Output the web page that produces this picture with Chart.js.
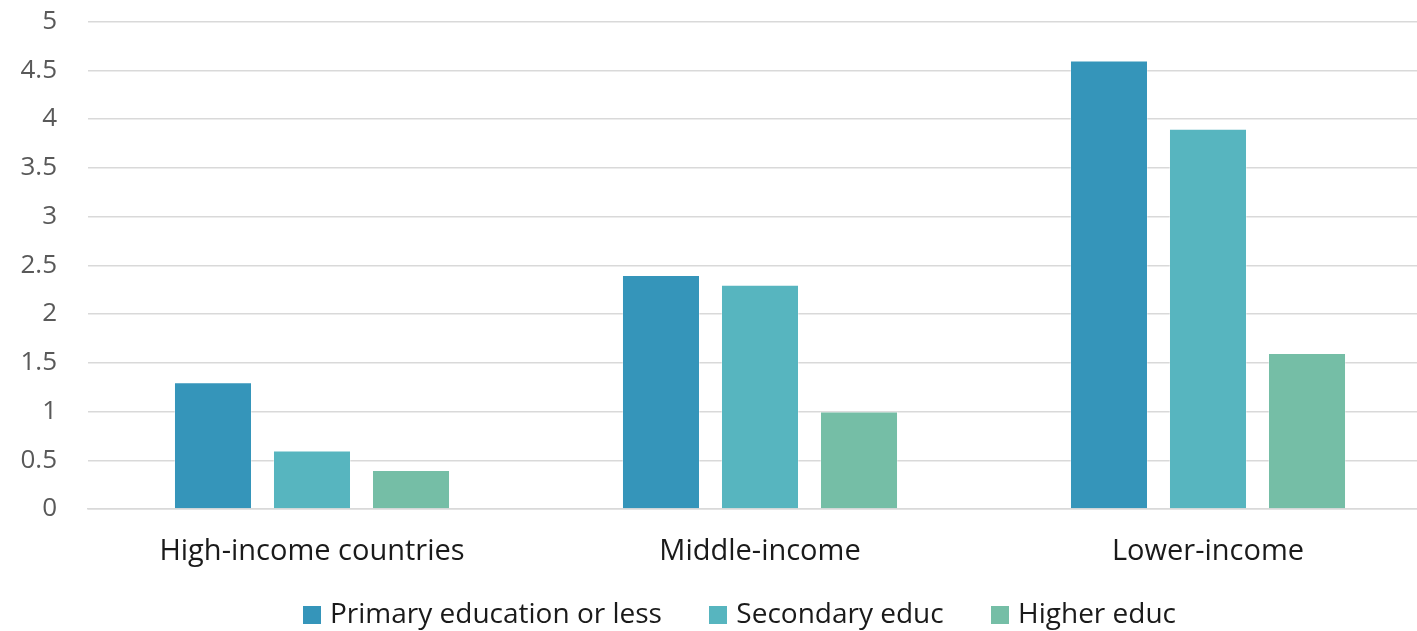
<!DOCTYPE html>
<html>
<head>
<meta charset="utf-8">
<script src="https://cdn.jsdelivr.net/npm/chart.js@4/dist/chart.umd.min.js"></script>
<style>
  html, body { margin: 0; padding: 0; background: #fff; overflow: hidden; }
  #wrap { width: 1432px; height: 664px; position: relative; margin-top: -25px; }
</style>
</head>
<body>
<div id="wrap"><canvas id="chart"></canvas></div>
<script>
const categories = ['High-income countries', 'Middle-income', 'Lower-income']
const seriesNames = ['Primary education or less', 'Secondary educ', 'Higher educ']
const primaryValues = [1.3, 2.4, 4.6]
const secondaryValues = [0.6, 2.3, 3.9]
const higherValues = [0.4, 1.0, 1.6]
const seriesColors = ['#3595BA', '#57B5BF', '#75BEA6']

const fontFamily = "'Open Sans', sans-serif"

// square legend swatch, drawn as a point style so the text sits close to it
function swatch(color) {
    const c = document.createElement('canvas')
    c.width = 18
    c.height = 18
    const g = c.getContext('2d')
    g.fillStyle = color
    g.fillRect(0, 0, 18, 18)
    return c
}

const datasets = [primaryValues, secondaryValues, higherValues].map((values, i) => ({
    label: seriesNames[i],
    data: values,
    backgroundColor: seriesColors[i],
    borderColor: 'rgba(255,255,255,0.35)',
    borderWidth: 1,
    categoryPercentage: 0.663,
    barPercentage: 0.788
}))

// the legend row sits a bit right of centre in the original
const legendShift = {
    id: 'legendShift',
    afterLayout(chart) {
        chart.legend.left += 26
        chart.legend.right += 26
    }
}

new Chart(document.getElementById('chart').getContext('2d'), {
    type: 'bar',
    data: { labels: categories, datasets },
    plugins: [legendShift],
    options: {
        responsive: true,
        maintainAspectRatio: false,
        animation: false,
        layout: { padding: 0 },
        scales: {
            y: {
                min: 0,
                max: 5,
                ticks: {
                    stepSize: 0.5,
                    padding: 31,
                    color: '#595959',
                    font: { family: fontFamily, size: 26 },
                    callback: (v) => String(v)
                },
                grid: { color: '#d9d9d9', lineWidth: 1.5, drawTicks: false },
                border: { display: false },
                afterFit(scale) { scale.width = 88 }
            },
            x: {
                ticks: {
                    padding: 25,
                    color: '#1a1a1a',
                    font: { family: fontFamily, size: 29 }
                },
                grid: { display: false, drawTicks: false },
                border: { color: '#d9d9d9', width: 1.5 },
                afterFit(scale) { scale.height = 76 }
            }
        },
        plugins: {
            legend: {
                position: 'bottom',
                labels: {
                    usePointStyle: true,
                    boxWidth: 8,
                    boxHeight: 17,
                    padding: 16,
                    color: '#1a1a1a',
                    font: { family: fontFamily, size: 28 },
                    generateLabels(chart) {
                        const items = Chart.defaults.plugins.legend.labels.generateLabels(chart)
                        items.forEach((item, i) => {
                            item.pointStyle = swatch(seriesColors[i])
                            if (i < items.length - 1) item.text += '\u00a0'.repeat(5)
                        })
                        return items
                    }
                }
            },
            tooltip: { enabled: false }
        }
    }
})
</script>
</body>
</html>
